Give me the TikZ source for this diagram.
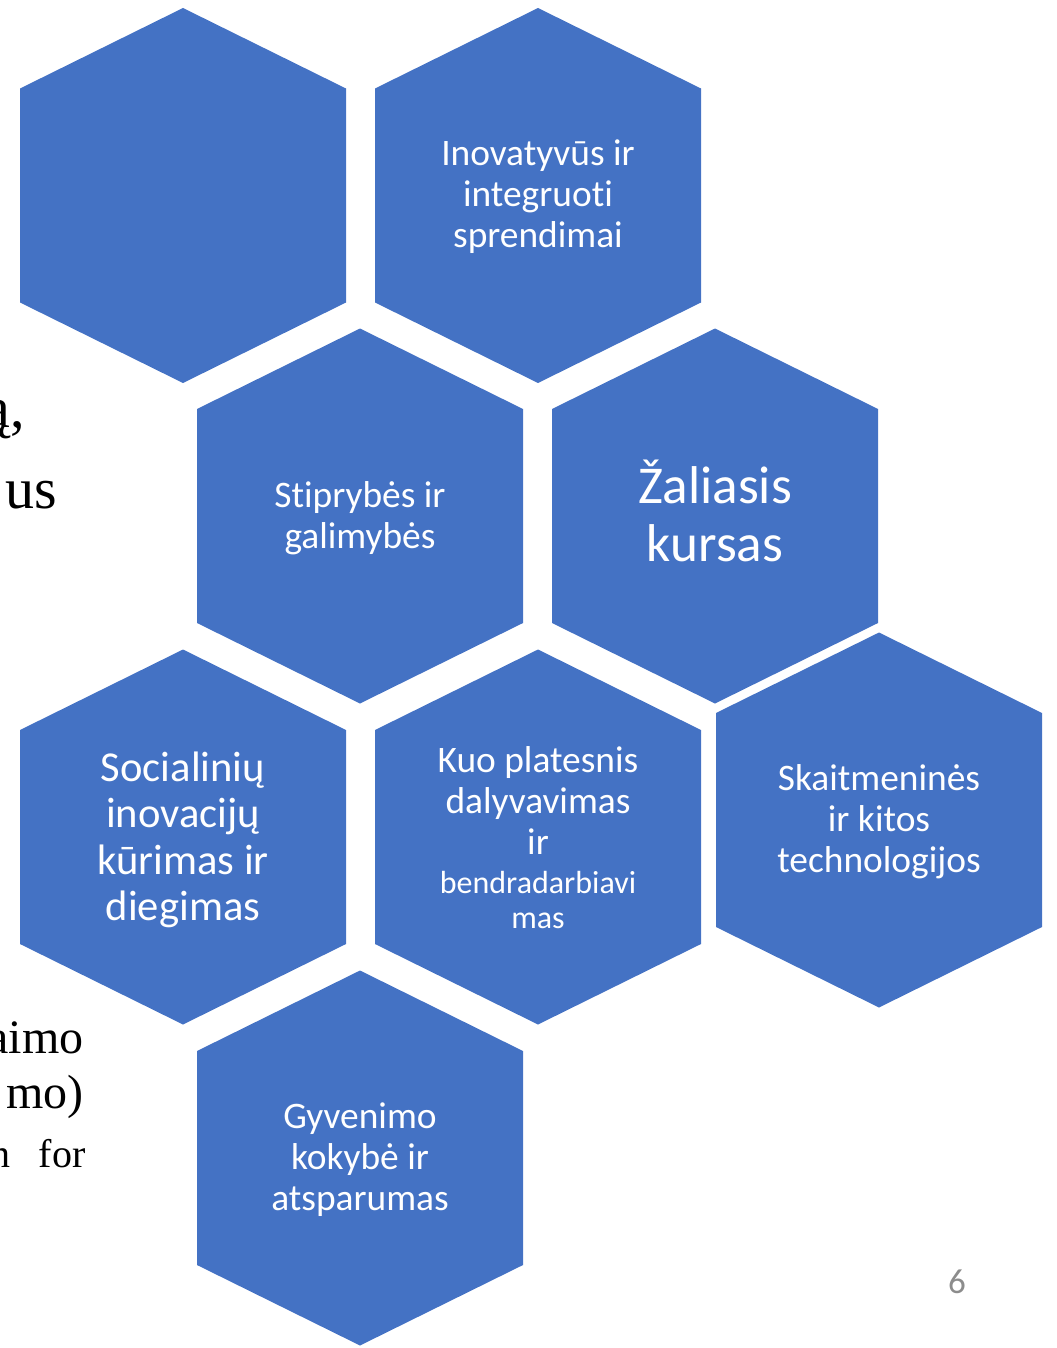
\documentclass[tikz,border=0pt]{standalone}
\usepackage{fontspec}
\setmainfont{Carlito}[Ligatures=NoCommon]
\newfontfamily\slideserif{Liberation Serif}
\definecolor{hexblue}{HTML}{4472C4}
\definecolor{pagegray}{HTML}{8C8C8C}

\begin{document}
\begin{tikzpicture}[x=0.5pt, y=-0.5pt,
        hexagon/.style={fill=hexblue},
        hexlabel/.style={text=white, align=center, inner sep=0pt, font=\fontsize{18.7}{20.5}\selectfont},
        cuttext/.style={anchor=base east, inner sep=0pt}]
    \useasboundingbox (0,0) rectangle (1056,1348);
    \clip (0,0) rectangle (1056,1348);

    % honeycomb cells
    \foreach \cx/\cy in {183/195.5, 538/195.5, 360/516, 715/516, 183/837, 538/837, 879/820, 360/1158}
        \fill[hexagon] (\cx,\cy) +(0,-187.5) -- +(163,-107) -- +(163,107) -- +(0,187.5) -- +(-163,107) -- +(-163,-107) -- cycle;

    \node[hexlabel] (solutions) at (538,196.5) {Inovatyvūs ir\\integruoti\\sprendimai};
    \node[hexlabel] (strengths) at (360,518) {Stiprybės ir\\galimybės};
    \node[hexlabel, font=\fontsize{26.6}{29}\selectfont] (green) at (715,511) {Žaliasis\\kursas};
    \node[hexlabel, font=\fontsize{21.3}{23.25}\selectfont] (social) at (183,840) {Socialinių\\inovacijų\\kūrimas ir\\diegimas};
    \node[hexlabel] (participation) at (538,838) {Kuo platesnis\\dalyvavimas\\ir\\[-1pt]{\fontsize{16}{17.5}\selectfont bendradarbiavi}\\[-3pt]{\fontsize{16}{17.5}\selectfont mas}};
    \node[hexlabel] (digital) at (879,822) {Skaitmeninės\\ir kitos\\technologijos};
    \node[hexlabel] (quality) at (360,1160) {Gyvenimo\\kokybė ir\\atsparumas};

    % text of the slide cut off at the left edge
    \node[cuttext, font=\slideserif\fontsize{29}{34}\selectfont] (cutone) at (25,427) {ą,};
    \node[cuttext, font=\slideserif\fontsize{29}{34}\selectfont] (cuttwo) at (57,508) {us};
    \node[cuttext, font=\slideserif\fontsize{24}{29}\selectfont] (cutthree) at (84,1053) {aimo};
    \node[cuttext, font=\slideserif\fontsize{24}{29}\selectfont] (cutfour) at (84,1108) {mo)};
    \node[cuttext, font=\slideserif\fontsize{20}{24}\selectfont] (cutfive) at (86,1167) {n\hspace{14pt}for};

    \node[text=pagegray, font=\fontsize{17.5}{20}\selectfont] (pagenum) at (957,1282) {6};
\end{tikzpicture}
\end{document}
